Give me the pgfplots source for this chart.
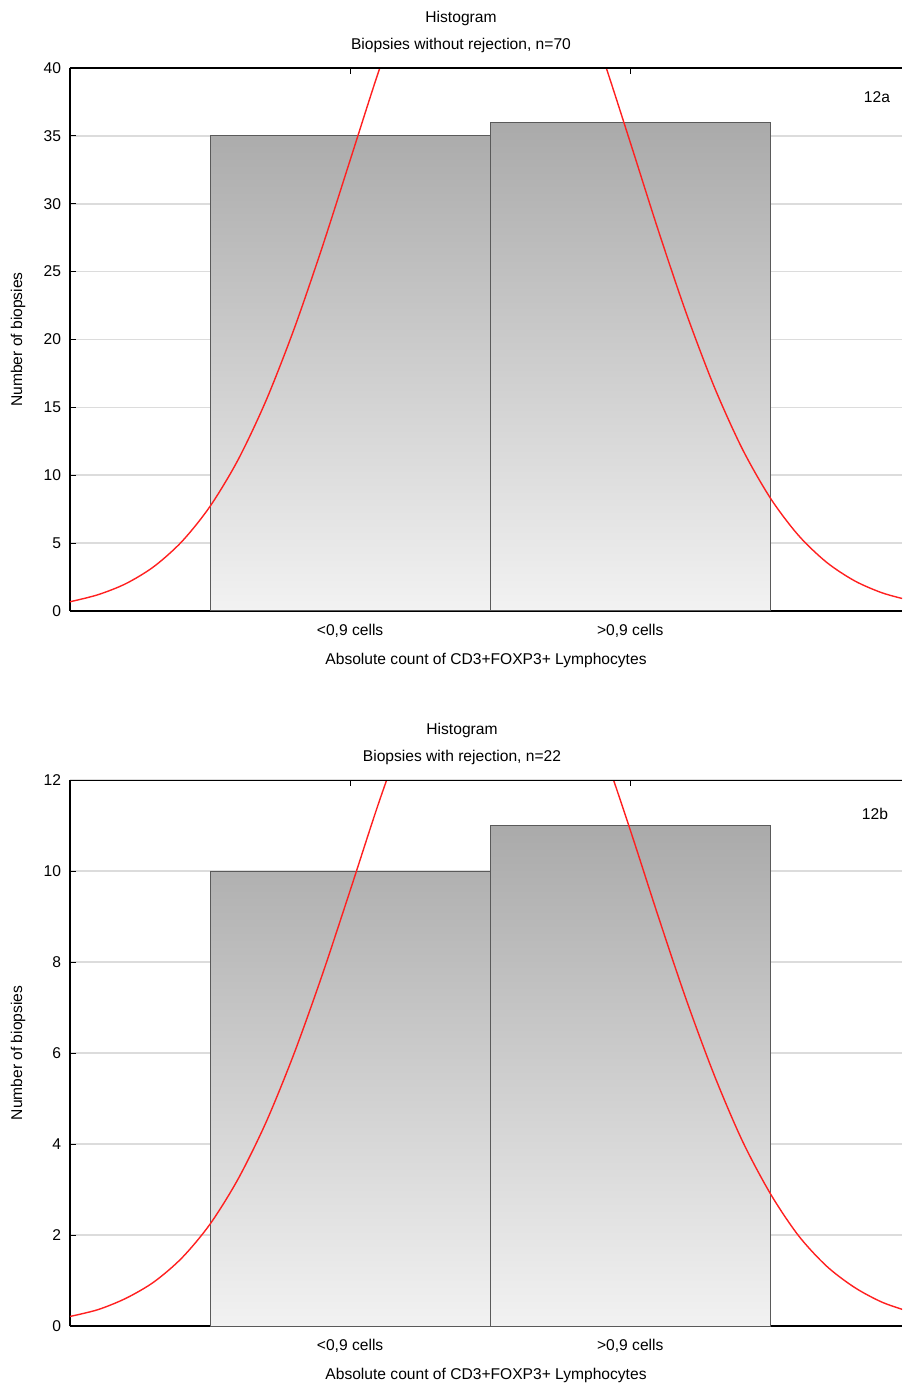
\documentclass[border=0pt]{standalone}
\usepackage{pgfplots}
\pgfplotsset{compat=1.18}
\usepackage{fontspec}
\setmainfont{Liberation Sans}
\definecolor{gridc}{HTML}{DCDCDC}
\definecolor{bartop}{HTML}{AAAAAA}
\definecolor{barbot}{HTML}{F2F2F2}
\definecolor{barline}{HTML}{5A5A5A}
\definecolor{curvec}{HTML}{FF2020}
\newcommand{\fs}{\fontsize{7.8}{9}\selectfont}
\pgfplotsset{
  histo/.style={
    scale only axis,
    width=416pt,
    xmin=0, xmax=2.97,
    ymin=0,
    axis lines*=left,
    axis line style={line width=1pt, black},
    xtick={1,2},
    xticklabels={{<0,9 cells},{>0,9 cells}},
    tick align=inside,
    major tick length=3pt,
    tick style={black, line width=0.5pt},
    ymajorgrids,
    grid style={gridc, line width=0.8pt},
    font=\fs,
    tick label style={font=\fs},
    /pgf/number format/assume math mode=true,
    yticklabel style={xshift=-1pt},
    xticklabel style={yshift=-3pt},
    xlabel={Absolute count of CD3+FOXP3+ Lymphocytes},
    xlabel style={yshift=-1pt},
    ylabel={Number of biopsies},
    ylabel style={at={(rel axis cs:0,0.5)}, anchor=center, yshift=26pt},
    clip=true,
  }
}
\begin{document}
\begin{tikzpicture}
\useasboundingbox (-35pt,-387pt) rectangle (416pt,305.5pt);
% ---------- Panel 12a ----------
\begin{axis}[histo, name=top, at={(0,0)}, anchor=south west,
  height=271.5pt, ymax=40, ytick={0,5,...,40}]
\addplot[ybar, bar width=1, bar shift=0, draw=barline, line width=0.5pt,
  top color=bartop, bottom color=barbot] coordinates {(1,35) (2,36)};
\addplot[curvec, line width=0.7pt, smooth, no markers] coordinates {
(0.0,0.68) (0.1,1.20) (0.2,2.02) (0.3,3.28) (0.4,5.13) (0.5,7.71) (0.6,11.14)
(0.7,15.51) (0.8,20.78) (0.9,26.78) (1.0,33.21) (1.1,39.64) (1.2,45.52)};
\addplot[curvec, line width=0.7pt, smooth, no markers] coordinates {
(1.8,46.58) (1.9,40.88) (2.0,34.52) (2.1,28.04) (2.2,21.93) (2.3,16.50)
(2.4,11.94) (2.5,8.32) (2.6,5.58) (2.7,3.60) (2.8,2.23) (2.9,1.33) (3.0,0.77)};
\draw[line width=1pt] (rel axis cs:0,1) -- (rel axis cs:1,1);
\foreach \xx in {1,2} {\edef\tmp{\noexpand\draw[line width=0.5pt] (axis cs:\xx,40) -- ++(0,-3pt);}\tmp}
\end{axis}
\node[font=\fs] at (195.5pt,296.5pt) {Histogram};
\node[font=\fs] at (195.5pt,283pt) {Biopsies without rejection, n=70};
\node[font=\fs] at (403.5pt,257pt) {12a};
% ---------- Panel 12b ----------
\begin{axis}[histo, name=bot, at={(0,-84.5pt)}, anchor=north west,
  height=273pt, ymax=12, ytick={0,2,...,12}]
\addplot[ybar, bar width=1, bar shift=0, draw=barline, line width=0.5pt,
  top color=bartop, bottom color=barbot] coordinates {(1,10) (2,11)};
\addplot[curvec, line width=0.7pt, smooth, no markers] coordinates {
(0.0,0.21) (0.1,0.36) (0.2,0.61) (0.3,0.97) (0.4,1.50) (0.5,2.24) (0.6,3.23)
(0.7,4.48) (0.8,5.99) (0.9,7.71) (1.0,9.57) (1.1,11.46) (1.2,13.21)};
\addplot[curvec, line width=0.7pt, smooth, no markers] coordinates {
(1.8,14.27) (1.9,12.71) (2.0,10.90) (2.1,9.00) (2.2,7.17) (2.3,5.51)
(2.4,4.07) (2.5,2.91) (2.6,1.99) (2.7,1.32) (2.8,0.85) (2.9,0.52) (3.0,0.31)};
\draw[line width=1pt] (rel axis cs:0,1) -- (rel axis cs:1,1);
\foreach \xx in {1,2} {\edef\tmp{\noexpand\draw[line width=0.5pt] (axis cs:\xx,12) -- ++(0,-3pt);}\tmp}
\end{axis}
\node[font=\fs] at (196pt,-59.5pt) {Histogram};
\node[font=\fs] at (196pt,-73pt) {Biopsies with rejection, n=22};
\node[font=\fs] at (402.5pt,-101.5pt) {12b};
\end{tikzpicture}
\end{document}
